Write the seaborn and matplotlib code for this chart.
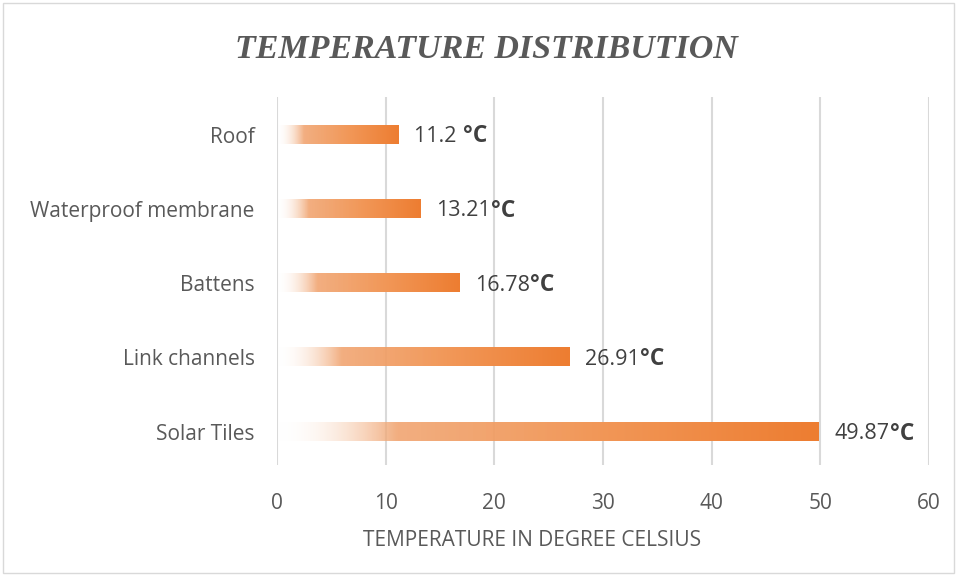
import numpy as np
import pandas as pd
import matplotlib
matplotlib.use('Agg')
from matplotlib import pyplot as plt
from matplotlib.colors import LinearSegmentedColormap, to_rgb
from matplotlib.patches import Rectangle
import seaborn as sns

layers = ['Roof', 'Waterproof membrane', 'Battens', 'Link channels', 'Solar Tiles']
temps = [11.2, 13.21, 16.78, 26.91, 49.87]
value_text = ['11.2 ', '13.21', '16.78', '26.91', '49.87']
unit_text = '°C'
x_ticks = [0, 10, 20, 30, 40, 50, 60]

orange = '#ED7D31'
grey_text = '#595959'
grid_col = '#D9D9D9'

sns.set_style('white')
plt.rcParams['font.family'] = ['Open Sans', 'DejaVu Sans']

data = pd.DataFrame({'layer': layers, 'temp': temps})

fig = plt.figure(figsize=(9.57, 5.76), dpi=100)
ax = fig.add_axes([277 / 957, 1 - 465 / 576, 652 / 957, 368 / 576])

sns.barplot(data=data, y='layer', x='temp', orient='h', color=orange,
            width=0.245, ax=ax)

# gradient fill: transparent on the left, full orange at the bar end
stops = [(0.0, (1, 1, 1, 0.0)), (0.22, (*to_rgb('#F0A06A'), 0.85)),
         (0.55, (*to_rgb('#F29A5C'), 1.0)), (1.0, (*to_rgb(orange), 1.0))]
cmap = LinearSegmentedColormap.from_list('fade', stops)
grad = np.linspace(0, 1, 256).reshape(1, -1)
for bar in list(ax.patches):
    x0, y0 = bar.get_x(), bar.get_y()
    w, h = bar.get_width(), bar.get_height()
    bar.set_visible(False)
    ax.imshow(grad, cmap=cmap, aspect='auto', extent=(x0, x0 + w, y0 + h, y0),
              interpolation='bicubic', zorder=2)

ax.set_xlim(0, 60)
ax.set_ylim(4.45, -0.505)
ax.set_xticks(x_ticks)
ax.xaxis.grid(True, color=grid_col, linewidth=1.5)
ax.set_axisbelow(True)
for s in ax.spines.values():
    s.set_visible(False)
ax.tick_params(axis='both', length=0, labelsize=15, labelcolor=grey_text)
ax.tick_params(axis='y', pad=16)
ax.tick_params(axis='x', pad=20)
ax.set_ylabel('')
ax.set_xlabel('TEMPERATURE IN DEGREE CELSIUS', fontsize=15, color=grey_text)
ax.xaxis.label.set_va('center')
ax.xaxis.set_label_coords((532 - 277) / 652, (465 - 540) / 368)

for i, (t, v) in enumerate(zip(temps, value_text)):
    txt = ax.annotate(v, xy=(t, i), xytext=(11, -1.5), textcoords='offset points',
                      ha='left', va='center', fontsize=15.5, color='#404040')
    ax.annotate(unit_text, xy=(1, 0), xycoords=txt, xytext=(0.5, -1),
                textcoords='offset points', ha='left', va='bottom',
                fontsize=16.5, color='#404040', fontweight='bold')

fig.text(486 / 957, 1 - 49 / 576, 'TEMPERATURE DISTRIBUTION', ha='center', va='center',
         fontsize=24.5, fontweight='bold', fontstyle='italic', color=grey_text,
         family=['Liberation Serif'])

fig.patches.append(Rectangle((3 / 957, 3 / 576), 951 / 957, 570 / 576,
                             transform=fig.transFigure, fill=False,
                             edgecolor='#D9D9D9', linewidth=1))

fig.savefig('out.png', dpi=100)
